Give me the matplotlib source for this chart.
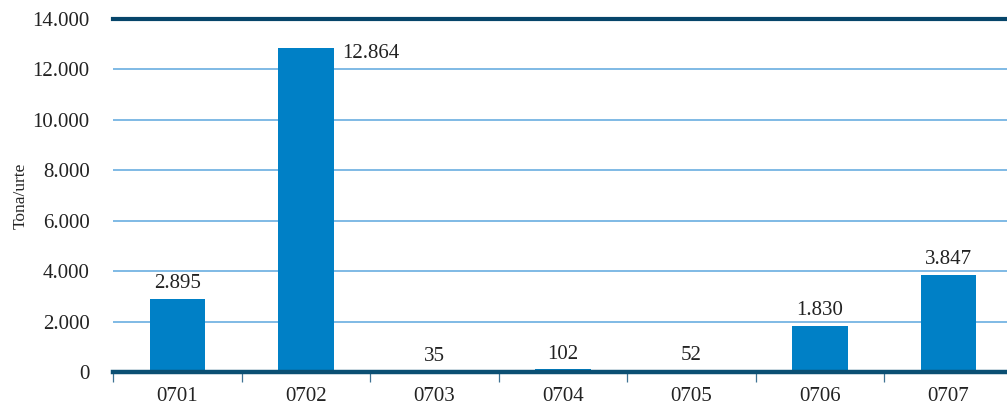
import numpy as np
import matplotlib.pyplot as plt
from matplotlib.ticker import FuncFormatter, FixedLocator

categories = ['0701', '0702', '0703', '0704', '0705', '0706', '0707']
values = [2895, 12864, 35, 102, 52, 1830, 3847]
yticks = [0, 2000, 4000, 6000, 8000, 10000, 12000, 14000]

plt.rcParams['font.family'] = ['Liberation Serif', 'DejaVu Serif']

def thousands(v, pos=None):
    return '{:,.0f}'.format(v).replace(',', '.')

fig = plt.figure(figsize=(10.07, 4.09), dpi=100)
ax = fig.add_axes([0.1125, 0.0905, 0.8933, 0.863])

x = np.arange(len(categories))
bars = ax.bar(x, values, width=0.43, color='#0080C6', zorder=3)

ax.set_xlim(-0.5, len(categories) - 0.5)
ax.set_ylim(0, 14000)
ax.set_yticks(yticks)
ax.yaxis.set_major_formatter(FuncFormatter(thousands))

# horizontal gridlines, the top one dark and thick
for t in yticks[1:-1]:
    ax.axhline(t, color='#6AAEE0', lw=1.2, zorder=1)
ax.axhline(14000, color='#06456A', lw=3, zorder=2, clip_on=False)

for s in ['top', 'right', 'left']:
    ax.spines[s].set_visible(False)
ax.spines['bottom'].set_color('#0B4F73')
ax.spines['bottom'].set_linewidth(3.2)
ax.spines['bottom'].set_zorder(4)

# ticks between categories on the x axis
ax.xaxis.set_major_locator(FixedLocator(np.arange(-0.5, len(categories), 1.0)))
ax.xaxis.set_major_formatter(FuncFormatter(lambda v, p: ''))
ax.set_xticks(x, categories, minor=True)
ax.tick_params(axis='x', which='major', length=7, width=0.9, color='#3F7293', direction='out')
ax.tick_params(axis='x', which='minor', length=0, labelsize=15, pad=11, labelcolor='#222222')
ax.tick_params(axis='y', length=0, labelsize=15, pad=17, labelcolor='#222222')

top = ax.get_ylim()[1]
for b, v in zip(bars, values):
    if v > 0.88 * top:
        ax.annotate(thousands(v), (b.get_x() + b.get_width(), v), xytext=(6, -4),
                    textcoords='offset points', ha='left', va='center',
                    fontsize=15, color='#222222')
    else:
        ax.annotate(thousands(v), (b.get_x() + b.get_width() / 2, v), xytext=(0, 4),
                    textcoords='offset points', ha='center', va='bottom',
                    fontsize=15, color='#222222')

ax.set_ylabel('Tona/urte', fontsize=12.5, labelpad=3, color='#222222')

fig.savefig('out.png', dpi=100)
